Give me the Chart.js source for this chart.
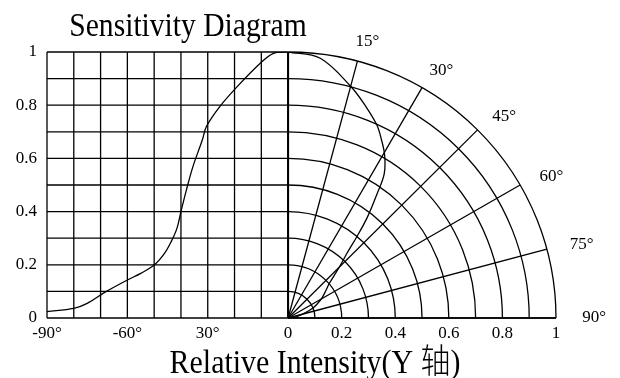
<!DOCTYPE html>
<html>
<head>
<meta charset="utf-8">
<script src="https://cdn.jsdelivr.net/npm/chart.js@4/dist/chart.umd.min.js"></script>
<style>
  body { margin: 0; background: #fff; }
  #c { display: block; }
</style>
</head>
<body>
<canvas id="c" width="620" height="378"></canvas>
<script>
// left half: relative sensitivity vs angle (degrees)
const leftAngles = [-90, -80, -75, -68, -60, -55, -50, -46, -43.5, -41.5, -40, -38, -35.5, -32, -30.5, -25.5, -19, -10.5, -5.5, -1, 0];
const leftValues = [0.024, 0.036, 0.055, 0.099, 0.143, 0.168, 0.199, 0.245, 0.29, 0.337, 0.40, 0.48, 0.57, 0.67, 0.72, 0.795, 0.87, 0.957, 0.995, 1.0, 1.0];

// right half: polar curve, angle from vertical (deg) and relative intensity
const polarAngles = [0, 7, 15, 20, 24.5, 27.5, 30.5, 33.5, 35.5, 38, 40, 42, 45, 50, 55, 60, 68, 75, 80, 90];
const polarValues = [1.0, 0.984, 0.902, 0.847, 0.798, 0.755, 0.71, 0.65, 0.57, 0.48, 0.40, 0.33, 0.27, 0.2, 0.168, 0.143, 0.1, 0.055, 0.036, 0.024];

// axis ticks (x in chart units: 10 degrees = 0.1)
const xTickValues = [-0.9, -0.6, -0.3, 0, 0.2, 0.4, 0.6, 0.8, 1];
const xTickLabels = ['-90°', '-60°', '30°', '0', '0.2', '0.4', '0.6', '0.8', '1'];
const radialAngles = [0, 15, 30, 45, 60, 75, 90];
const radialLabels = ['', '15°', '30°', '45°', '60°', '75°', '90°'];
const ringRadii = [0.1, 0.2, 0.3, 0.4, 0.5, 0.6, 0.7, 0.8, 0.9, 1.0];

const chartTitle = 'Sensitivity Diagram';
const axisTitle = 'Relative Intensity(Y 轴)';

const SERIF = "'Liberation Serif', 'Noto Sans CJK SC', serif";
const rad = d => d * Math.PI / 180;

const leftData = leftAngles.map((a, i) => ({ x: a / 100, y: leftValues[i] }));
const rightData = polarAngles.map((a, i) => ({
    x: polarValues[i] * Math.sin(rad(a)),
    y: polarValues[i] * Math.cos(rad(a))
}));

const gridPlugin = {
    id: 'gridPlugin',
    beforeDatasetsDraw(chart) {
        const ctx = chart.ctx;
        const xs = chart.scales.x, ys = chart.scales.y;
        const px = v => xs.getPixelForValue(v);
        const py = v => ys.getPixelForValue(v);
        ctx.save();
        ctx.strokeStyle = '#000';
        ctx.lineWidth = 1.3;
        // rectangular grid on the left
        for (let i = 0; i <= 9; i++) {
            const x = -0.9 + i * 0.1;
            ctx.beginPath();
            ctx.moveTo(px(x), py(0));
            ctx.lineTo(px(x), py(1));
            ctx.stroke();
        }
        for (let j = 1; j <= 10; j++) {
            const y = j * 0.1;
            ctx.beginPath();
            ctx.moveTo(px(-0.9), py(y));
            ctx.lineTo(px(0), py(y));
            ctx.stroke();
        }
        // baseline across both halves
        ctx.beginPath();
        ctx.moveTo(px(-0.9), py(0));
        ctx.lineTo(px(1), py(0));
        ctx.stroke();
        // rings
        const cx = px(0), cy = py(0);
        const ux = px(1) - cx, uy = cy - py(1);
        ringRadii.forEach(r => {
            ctx.beginPath();
            ctx.ellipse(cx, cy, r * ux, r * uy, 0, -Math.PI / 2, 0);
            ctx.stroke();
        });
        // radial lines
        radialAngles.forEach(a => {
            ctx.beginPath();
            ctx.moveTo(cx, cy);
            ctx.lineTo(cx + Math.sin(rad(a)) * ux, cy - Math.cos(rad(a)) * uy);
            ctx.stroke();
        });
        // thicker zero axis
        ctx.lineWidth = 2;
        ctx.beginPath();
        ctx.moveTo(cx, py(0));
        ctx.lineTo(cx, py(1));
        ctx.stroke();
        ctx.restore();
    },
    afterDraw(chart) {
        const ctx = chart.ctx;
        const xs = chart.scales.x, ys = chart.scales.y;
        const cx = xs.getPixelForValue(0), cy = ys.getPixelForValue(0);
        const ux = xs.getPixelForValue(1) - cx, uy = cy - ys.getPixelForValue(1);
        ctx.save();
        ctx.fillStyle = '#000';
        ctx.font = '17px ' + SERIF;
        ctx.textAlign = 'center';
        ctx.textBaseline = 'middle';
        radialAngles.forEach((a, i) => {
            if (!radialLabels[i]) return;
            const r = 1.07 + a * 0.0008;
            const t = a + 1.8 * Math.sin(rad(2 * a));
            ctx.fillText(radialLabels[i], cx + Math.sin(rad(t)) * r * ux, cy - Math.cos(rad(t)) * r * uy);
        });
        ctx.textBaseline = 'alphabetic';
        ctx.font = '34px ' + SERIF;
        ctx.save();
        ctx.translate(188, 36);
        ctx.scale(0.87, 1);
        ctx.fillText(chartTitle, 0, 0);
        ctx.restore();
        ctx.font = '300 34px ' + SERIF;
        ctx.save();
        ctx.translate(315, 373);
        ctx.scale(0.88, 1);
        ctx.fillText(axisTitle, 0, 0);
        ctx.restore();
        ctx.restore();
    }
};

new Chart(document.getElementById('c'), {
    type: 'scatter',
    data: {
        datasets: [{
            data: leftData,
            showLine: true,
            borderColor: '#000',
            borderWidth: 1.3,
            pointRadius: 0,
            tension: 0.35
        }, {
            data: rightData,
            showLine: true,
            borderColor: '#000',
            borderWidth: 1.3,
            pointRadius: 0,
            tension: 0.35
        }]
    },
    options: {
        responsive: false,
        animation: false,
        layout: { padding: { top: 52, right: 64, left: 0, bottom: 0 } },
        plugins: { legend: { display: false }, tooltip: { enabled: false } },
        scales: {
            x: {
                type: 'linear',
                min: -0.9,
                max: 1,
                afterFit: s => { s.height = 60; },
                afterBuildTicks: s => { s.ticks = xTickValues.map(v => ({ value: v })); },
                grid: { display: false, drawTicks: false },
                border: { display: false },
                ticks: {
                    autoSkip: false,
                    maxRotation: 0,
                    padding: 5,
                    color: '#000',
                    font: { family: SERIF, size: 17 },
                    callback: (v, i) => xTickLabels[i]
                }
            },
            y: {
                min: 0,
                max: 1,
                afterFit: s => { s.width = 47; },
                grid: { display: false, drawTicks: false },
                border: { display: false },
                ticks: {
                    stepSize: 0.2,
                    padding: 10,
                    color: '#000',
                    font: { family: SERIF, size: 17 },
                    callback: v => String(Number(v.toFixed(1)))
                }
            }
        }
    },
    plugins: [gridPlugin]
});
</script>
</body>
</html>
